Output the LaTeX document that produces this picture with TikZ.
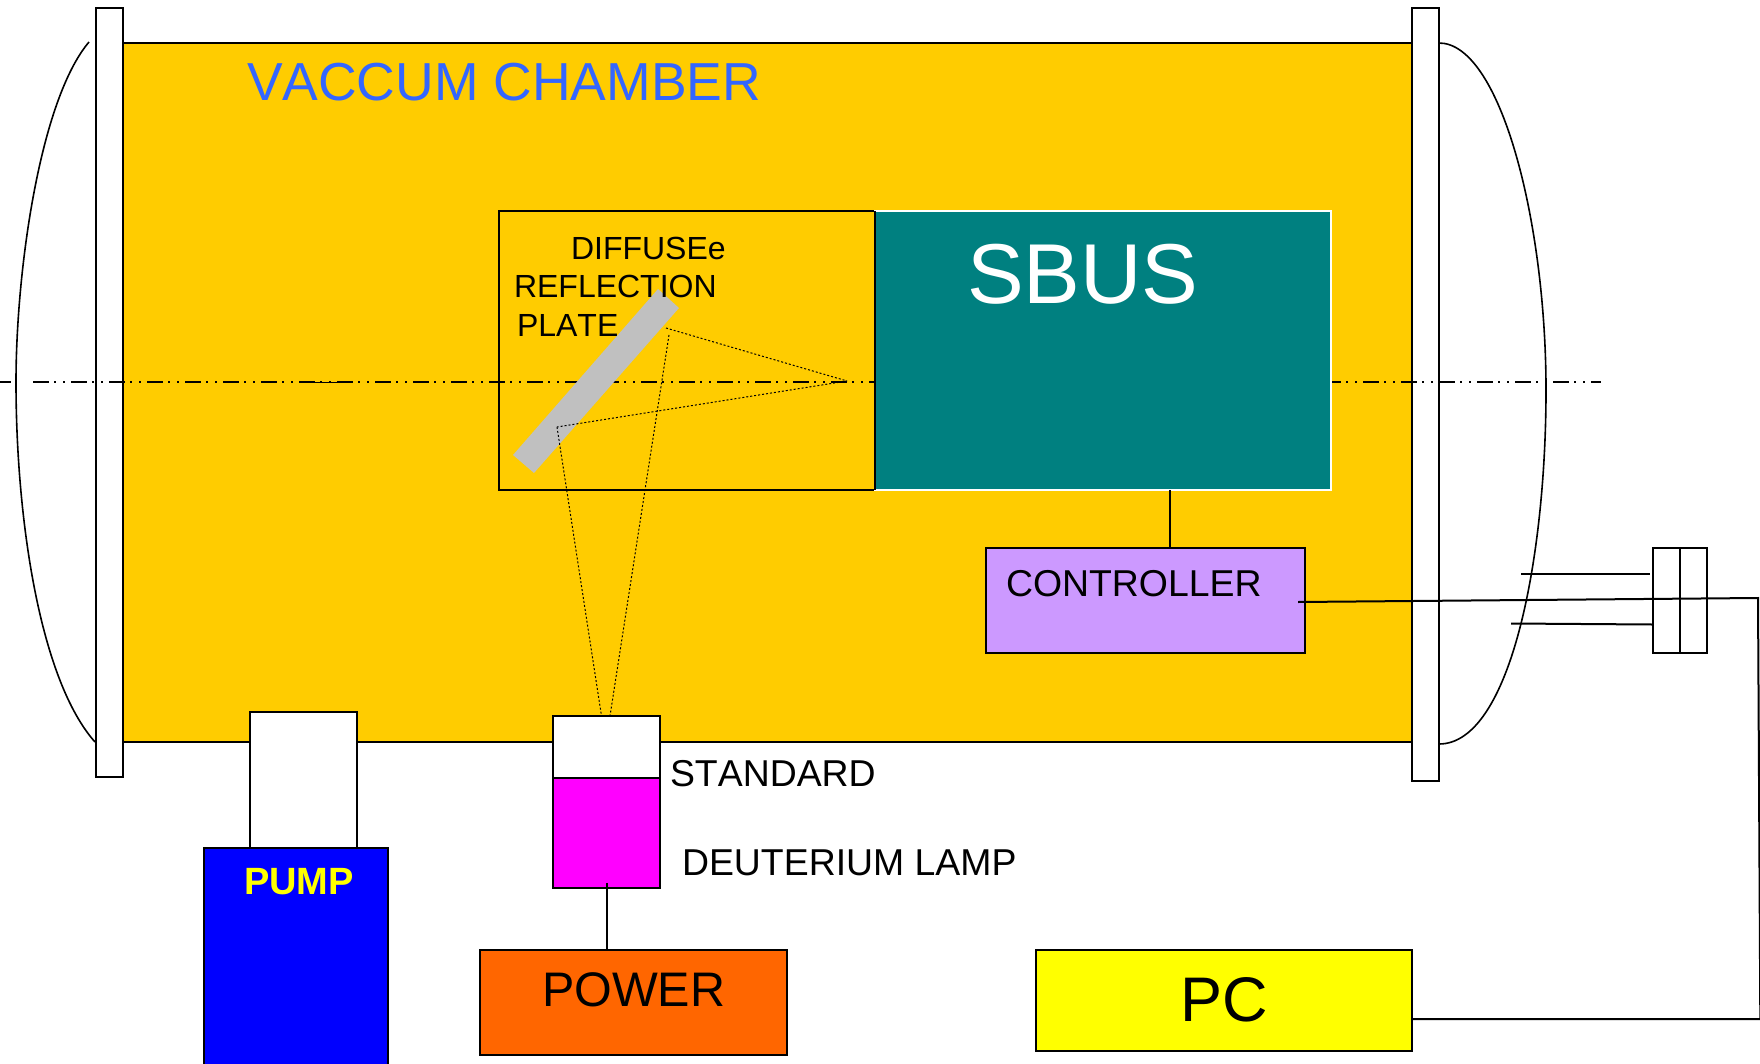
\documentclass[tikz,border=0pt]{standalone}
\usepackage{fontspec}
\setmainfont[Kerning=Off]{Liberation Sans}
\usetikzlibrary{positioning}
\definecolor{chambercol}{HTML}{FFCC00}
\definecolor{titlecol}{HTML}{3366FF}
\definecolor{sbuscol}{HTML}{008080}
\definecolor{ctrlcol}{HTML}{CC99FF}
\definecolor{powercol}{HTML}{FF6600}
\definecolor{platecol}{HTML}{C0C0C0}
\definecolor{lampcol}{HTML}{FF00FF}
\definecolor{pccol}{HTML}{FFFF00}
\definecolor{pumpcol}{HTML}{0000FF}
\newcommand{\fsize}[1]{\fontsize{#1}{#1}\selectfont}

\begin{document}
\begin{tikzpicture}[x=1pt, y=-1pt, line width=2pt,
    box/.style={draw, rectangle, anchor=north west, inner sep=0pt, outer sep=0pt},
    label/.style={anchor=base west, inner sep=0pt, outer sep=0pt},
    ray/.style={line width=1pt, dash pattern=on 2pt off 2pt},
    axis/.style={dash pattern=on 16pt off 5pt on 2pt off 7pt on 2pt off 6pt}]
          \clip (0,0) rectangle (1760,1064);
          \node (chamber) [box, fill=chambercol, minimum width=1289pt, minimum height=699pt] at (123,43) {};
          \node (flangeL) [box, fill=white, minimum width=27pt, minimum height=769pt] at (96,8) {};
          \node (flangeR) [box, fill=white, minimum width=27pt, minimum height=773pt] at (1412,8) {};
          \draw[line width=1.6pt] (89,42) .. controls (40,100) and (16,270) .. (16,382) .. controls (16,520) and (40,680) .. (95,742);
          \draw[line width=1.6pt] (1439,43) .. controls (1500,43) and (1546,220) .. (1546,390) .. controls (1546,560) and (1510,744) .. (1439,744);
          \coordinate (axisL) at (0,382);
          \coordinate (axisM) at (11,382);
          \coordinate (axisN) at (33,382);
          \coordinate (axisR) at (1601,382);
          \draw (axisL) -- (axisM);
          \draw[axis] (axisN) -- (axisR);
          \coordinate (axisA) at (313,382);
          \coordinate (axisB) at (348,382);
          \draw[line width=1pt] (axisA) -- (axisB);
          \node (diffbox) [box, minimum width=376pt, minimum height=279pt] at (499,211) {};
          \node (sbus) [box, draw=white, fill=sbuscol, minimum width=456pt, minimum height=279pt, right=0pt of diffbox] {};
          \draw (diffbox.north east) -- (diffbox.south east);
          \fill[platecol] (658,289) -- (679,308) -- (534,473) -- (513,455) -- cycle;
          \node (controller) [box, fill=ctrlcol, minimum width=319pt, minimum height=105pt] at (986,548) {};
          \node (neck) [box, fill=white, minimum width=107pt, minimum height=136pt] at (250,712) {};
          \node (pump) [box, fill=pumpcol, minimum width=184pt, minimum height=222pt] at (204,848) {};
          \node (standard) [box, fill=white, minimum width=107pt, minimum height=62pt] at (553,716) {};
          \node (lamp) [box, fill=lampcol, minimum width=107pt, minimum height=110pt, below=0pt of standard] {};
          \node (power) [box, fill=powercol, minimum width=307pt, minimum height=105pt] at (480,950) {};
          \node (pc) [box, fill=pccol, minimum width=376pt, minimum height=101pt] at (1036,950) {};
          \node (blockA) [box, fill=white, minimum width=27pt, minimum height=105pt] at (1653,548) {};
          \node (blockB) [box, fill=white, minimum width=27pt, minimum height=105pt, right=0pt of blockA] {};
          \coordinate (focus) at (847,381);
          \coordinate (spotA) at (666,328);
          \coordinate (spotB) at (557,427);
          \coordinate (spotC) at (669,335);
          \coordinate (srcA) at (601.5,716);
          \coordinate (srcB) at (610,716);
          \draw[ray] (spotA) -- (focus);
          \draw[ray] (focus) -- (spotB);
          \draw[ray] (spotB) -- (srcA);
          \draw[ray] (spotC) -- (srcB);
          \coordinate (tap) at (1170,0);
          \draw (sbus.south -| tap) -- (controller.north -| tap);
          \draw ([yshift=5pt]lamp.south) -- (lamp.south |- power.north);
          \coordinate (wireA) at (1298,602);
          \coordinate (wireB) at (1758,598);
          \coordinate (wireC) at (1760.3,1019);
          \coordinate (pcport) at (1412,1019);
          \draw (wireA) -- (wireB) -- (wireC) -- (pcport);
          \coordinate (stubA) at (1521,574);
          \coordinate (stubB) at (1650,574);
          \coordinate (stubC) at (1511,623.5);
          \coordinate (stubD) at (1652,624.5);
          \draw (stubA) -- (stubB);
          \draw (stubC) -- (stubD);
          \node (titlelab) [label, text=titlecol] at (247,101) {\fsize{53.5}VACCUM CHAMBER};
          \node (sbuslab) [label, text=white] at (967,304) {\fsize{85}SBUS};
          \node (plateA) [label] at (571,260) {\fsize{32}DIFFUSEe};
          \node (plateB) [label] at (514,298) {\fsize{32}REFLECTION};
          \node (plateC) [label] at (517,336) {\fsize{32}PLATE};
          \node (ctrllab) [label] at (1006,596) {\fsize{37.4}CONTROLLER};
          \node (stdlab) [label] at (670,786) {\fsize{37.4}STANDARD};
          \node (lamplab) [label] at (682,875) {\fsize{37.4}DEUTERIUM LAMP};
          \node (pumplab) [label, text=pccol] at (244,894) {\fsize{38}\bfseries PUMP};
          \node (powerlab) [label] at (542,1006) {\fsize{48.5}POWER};
          \node (pclab) [label] at (1180,1021) {\fsize{63}PC};
      \end{tikzpicture}
\end{document}
